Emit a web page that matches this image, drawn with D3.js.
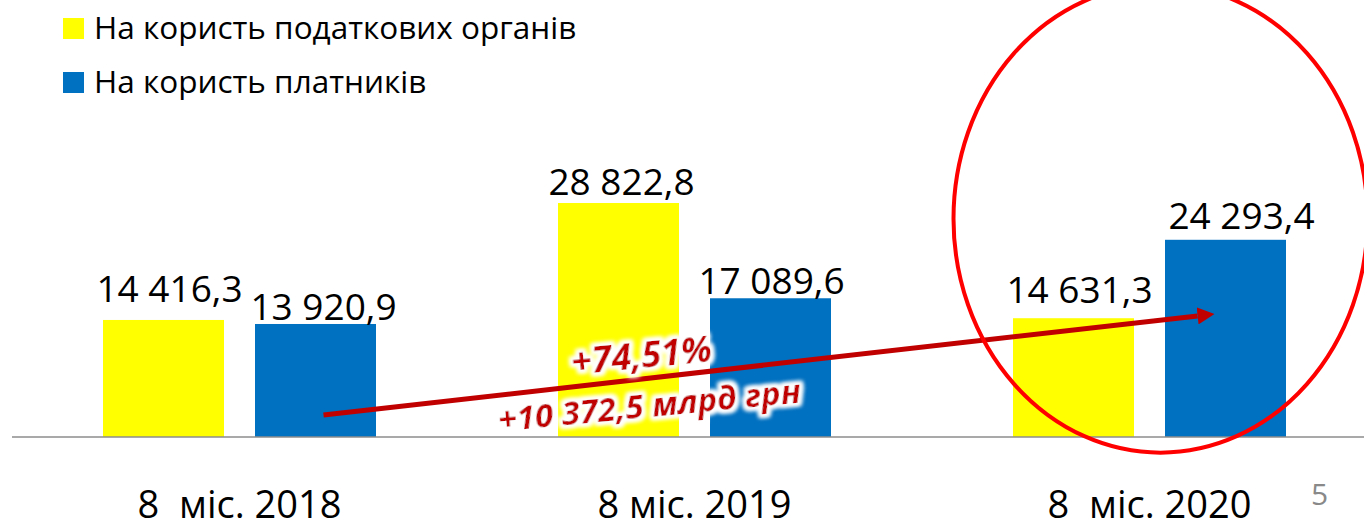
<!DOCTYPE html>
<html>
<head>
<meta charset="utf-8">
<script src="https://cdn.jsdelivr.net/npm/d3@7"></script>
<style>
  html, body { margin: 0; padding: 0; background: #fff; }
  svg { display: block; }
</style>
</head>
<body>
<svg id="chart" width="1364" height="523"></svg>
<script>
// ---------- data ----------
const categories = ["8  міс. 2018", "8 міс. 2019", "8  міс. 2020"];
const seriesNames = ["На користь податкових органів", "На користь платників"];
const taxAuthorities = [14416.3, 28822.8, 14631.3];
const taxpayers = [13920.9, 17089.6, 24293.4];
const growthPercent = "+74,51%";
const growthAmount = "+10 372,5 млрд грн";
const pageNumber = "5";

// ---------- layout / style ----------
const W = 1364, H = 523;
const baseY = 437;
const colors = ["#FFFF00", "#0070C0"];
const font = "'Open Sans', 'DejaVu Sans', sans-serif";
// label nudges (dx, gap above bar) as placed in the original slide
const labelNudge = [
  [[6, 18], [8, 4]],
  [[3, 8], [1, 4]],
  [[6, 15], [16, 11]]
];

const fmt = v => {
  const [i, f] = v.toFixed(1).split(".");
  return i.replace(/\B(?=(\d{3})+(?!\d))/g, " ") + "," + f;
};

const svg = d3.select("#chart");

const defs = svg.append("defs");
const glow = defs.append("filter").attr("id", "glow")
  .attr("x", "-20%").attr("y", "-60%").attr("width", "140%").attr("height", "220%");
glow.append("feMorphology").attr("in", "SourceAlpha").attr("operator", "dilate").attr("radius", 2.5).attr("result", "d");
glow.append("feGaussianBlur").attr("in", "d").attr("stdDeviation", 2).attr("result", "b");
glow.append("feFlood").attr("flood-color", "#ffffff").attr("result", "w");
glow.append("feComposite").attr("in", "w").attr("in2", "b").attr("operator", "in").attr("result", "g");
const mg = glow.append("feMerge");
mg.append("feMergeNode").attr("in", "g");
mg.append("feMergeNode").attr("in", "g");
mg.append("feMergeNode").attr("in", "SourceGraphic");

defs.append("marker").attr("id", "arrowhead")
  .attr("markerUnits", "userSpaceOnUse")
  .attr("viewBox", "0 0 17 17")
  .attr("refX", 0).attr("refY", 8.5)
  .attr("markerWidth", 17).attr("markerHeight", 17)
  .attr("orient", "auto")
  .append("path").attr("d", "M0,0 L17,8.5 L0,17 Z").attr("fill", "#C00000");

// ---------- scales ----------
const x0 = d3.scaleBand().domain(categories).range([12, 1377]).paddingInner(0.4).paddingOuter(0.2);
const x1 = d3.scaleBand().domain(d3.range(seriesNames.length)).range([0, x0.bandwidth()]).paddingInner(0.204).paddingOuter(0);
const y = d3.scaleLinear().domain([0, 30000]).range([baseY, baseY - 30000 * 0.008118]);

const table = categories.map((c, i) => ({ cat: c, vals: [taxAuthorities[i], taxpayers[i]] }));

// ---------- bars ----------
const groups = svg.append("g").selectAll("g").data(table).join("g")
  .attr("transform", d => `translate(${x0(d.cat)},0)`);

groups.selectAll("rect").data(d => d.vals.map((v, s) => ({ v, s }))).join("rect")
  .attr("x", d => x1(d.s))
  .attr("width", x1.bandwidth())
  .attr("y", d => y(d.v))
  .attr("height", d => y(0) - y(d.v))
  .attr("fill", d => colors[d.s]);

// ---------- axis ----------
const xAxis = d3.axisBottom(x0).tickSize(0).tickPadding(0).tickFormat("");
const ax = svg.append("g").attr("transform", `translate(0,${baseY})`).call(xAxis);
ax.select(".domain").attr("stroke", "#8c8c8c").attr("stroke-width", 1.7)
  .attr("d", `M12,0H${W}`);

svg.append("g").selectAll("text").data(categories).join("text")
  .attr("x", d => x0(d) + x0.bandwidth() / 2)
  .attr("y", 518)
  .attr("text-anchor", "middle")
  .attr("font-family", font)
  .attr("font-size", 38)
  .attr("fill", "#000")
  .attr("xml:space", "preserve")
  .style("white-space", "pre")
  .text(d => d);

// ---------- value labels ----------
groups.each(function (d, ci) {
  d3.select(this).selectAll("text.val").data(d.vals.map((v, s) => ({ v, s }))).join("text")
    .attr("class", "val")
    .attr("x", e => x1(e.s) + x1.bandwidth() / 2 + labelNudge[ci][e.s][0])
    .attr("y", e => y(e.v) - labelNudge[ci][e.s][1])
    .attr("text-anchor", "middle")
    .attr("font-family", font)
    .attr("font-size", 37)
    .attr("fill", "#000")
    .text(e => fmt(e.v));
});

// ---------- growth arrow ----------
const ptX = (ci, s) => x0(categories[ci]) + x1(s) + x1.bandwidth() / 2;
const arrowStart = [ptX(0, 1) + 8, y(2700)];
const arrowTip = [ptX(2, 1) - 11, y(15150)];
const ang = Math.atan2(arrowTip[1] - arrowStart[1], arrowTip[0] - arrowStart[0]);
const lineEnd = [arrowTip[0] - 17 * Math.cos(ang), arrowTip[1] - 17 * Math.sin(ang)];
svg.append("line")
  .attr("x1", arrowStart[0]).attr("y1", arrowStart[1])
  .attr("x2", lineEnd[0]).attr("y2", lineEnd[1])
  .attr("stroke", "#C00000").attr("stroke-width", 5)
  .attr("marker-end", "url(#arrowhead)");

const rot = -5.5;
const annX = (ptX(0, 1) + ptX(2, 1)) / 2;
svg.append("text")
  .attr("transform", `translate(${annX - 128},368) rotate(${rot})`)
  .attr("text-anchor", "middle")
  .attr("font-family", font).attr("font-weight", 700).attr("font-style", "italic")
  .attr("font-size", 36).attr("fill", "#C00000")
  .attr("filter", "url(#glow)")
  .text(growthPercent);
svg.append("text")
  .attr("transform", `translate(${annX - 120},417) rotate(${rot})`)
  .attr("text-anchor", "middle")
  .attr("font-family", font).attr("font-weight", 700).attr("font-style", "italic")
  .attr("font-size", 33).attr("fill", "#C00000")
  .attr("filter", "url(#glow)")
  .text(growthAmount);

// ---------- highlight ellipse ----------
svg.append("ellipse")
  .attr("cx", x0(categories[2]) + x0.bandwidth() / 2 + 11)
  .attr("cy", y(26900))
  .attr("rx", 207).attr("ry", 234)
  .attr("fill", "none").attr("stroke", "#FF0000").attr("stroke-width", 4);

// ---------- legend ----------
const legend = svg.append("g").selectAll("g").data(seriesNames).join("g")
  .attr("transform", (d, i) => `translate(63,${18 + i * 54})`);
legend.append("rect").attr("width", 21).attr("height", 21).attr("fill", (d, i) => colors[i]);
legend.append("text").attr("x", 31).attr("y", 21)
  .attr("font-family", font).attr("font-size", 31.5).attr("fill", "#000")
  .text(d => d);

// ---------- page number ----------
svg.append("text").attr("x", 1311).attr("y", 505)
  .attr("font-family", font).attr("font-size", 30).attr("fill", "#898989")
  .text(pageNumber);
</script>
</body>
</html>
